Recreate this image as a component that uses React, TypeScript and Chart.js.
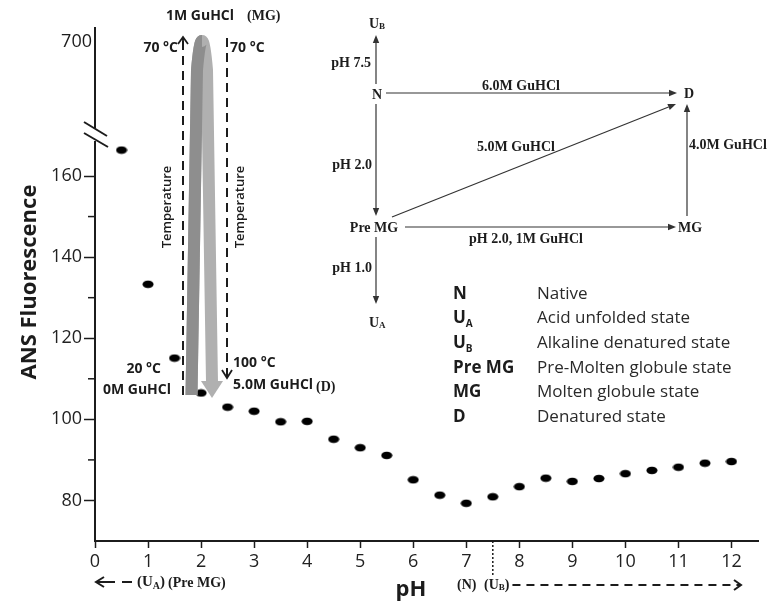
import React, { useEffect, useRef } from "react";
import { Chart, registerables } from "chart.js";

Chart.register(...registerables);

// ---- data ----
const phValues = [0.5, 1, 1.5, 2, 2.5, 3, 3.5, 4, 4.5, 5, 5.5, 6, 6.5, 7, 7.5, 8, 8.5, 9, 9.5, 10, 10.5, 11, 11.5, 12];
const ansFluorescence = [166.4, 133.3, 115.1, 106.5, 103, 102, 99.4, 99.5, 95.1, 93, 91.1, 85.1, 81.3, 79.3, 80.9, 83.4, 85.5, 84.7, 85.4, 86.6, 87.4, 88.2, 89.2, 89.6];
const xTickValues = [0, 1, 2, 3, 4, 5, 6, 7, 8, 9, 10, 11, 12];
const yTickValues = [80, 90, 100, 110, 120, 130, 140, 150, 160];
const yBreakLabel = "700";
const legendMain = ["N", "U", "U", "Pre MG", "MG", "D"];
const legendSub = ["", "A", "B", "", "", ""];
const legendDesc = ["Native", "Acid unfolded state", "Alkaline denatured state", "Pre-Molten globule state", "Molten globule state", "Denatured state"];

const SANS = '"Open Sans", "Noto Sans", sans-serif';
const SERIF = '"Liberation Serif", "DejaVu Serif", serif';
const INK = "#1c1c1c";

function makeDot(): HTMLCanvasElement {
  const c = document.createElement("canvas");
  c.width = 12;
  c.height = 9;
  const g = c.getContext("2d")!;
  g.fillStyle = "#000";
  g.beginPath();
  g.ellipse(6, 4.5, 5.5, 3.8, 0, 0, Math.PI * 2);
  g.fill();
  return c;
}

function line(ctx: CanvasRenderingContext2D, x1: number, y1: number, x2: number, y2: number) {
  ctx.beginPath();
  ctx.moveTo(x1, y1);
  ctx.lineTo(x2, y2);
  ctx.stroke();
}

function arrow(ctx: CanvasRenderingContext2D, x1: number, y1: number, x2: number, y2: number) {
  const a = Math.atan2(y2 - y1, x2 - x1);
  const hl = 8, hw = 3.2;
  const bx = x2 - hl * Math.cos(a), by = y2 - hl * Math.sin(a);
  line(ctx, x1, y1, bx, by);
  ctx.beginPath();
  ctx.moveTo(x2, y2);
  ctx.lineTo(bx + hw * Math.sin(a), by - hw * Math.cos(a));
  ctx.lineTo(bx - hw * Math.sin(a), by + hw * Math.cos(a));
  ctx.closePath();
  ctx.fill();
}

// draws main text + subscript (+ trailing text), left aligned; returns end x
function subText(ctx: CanvasRenderingContext2D, parts: [string, string, string], x: number, y: number, font: string, subFont: string, subDy: number) {
  ctx.textAlign = "left";
  ctx.font = font;
  ctx.fillText(parts[0], x, y);
  let cx = x + ctx.measureText(parts[0]).width;
  ctx.font = subFont;
  ctx.fillText(parts[1], cx, y + subDy);
  cx += ctx.measureText(parts[1]).width;
  ctx.font = font;
  ctx.fillText(parts[2], cx, y);
  cx += ctx.measureText(parts[2]).width;
  return cx;
}

const decorPlugin = {
  id: "decor",
  afterDraw(chart: any) {
    const ctx: CanvasRenderingContext2D = chart.ctx;
    const xs = chart.scales.x;
    const ys = chart.scales.y;
    const area = chart.chartArea;
    ctx.save();
    ctx.fillStyle = INK;
    ctx.strokeStyle = INK;
    ctx.textBaseline = "middle";

    // minor y ticks
    ctx.lineWidth = 1.5;
    yTickValues.forEach((v) => {
      if (v % 20 !== 0) {
        const py = ys.getPixelForValue(v);
        line(ctx, area.left - 7, py, area.left, py);
      }
    });

    // axis break
    ctx.fillStyle = "#fff";
    ctx.fillRect(area.left - 4, 128, 8, 13);
    ctx.fillStyle = INK;
    ctx.lineWidth = 2;
    line(ctx, 84, 122, 107, 136);
    line(ctx, 84, 133, 108, 147);
    ctx.font = `18px ${SANS}`;
    ctx.textAlign = "right";
    ctx.fillText(yBreakLabel, 92, 42);

    // axis titles
    ctx.save();
    ctx.translate(30, 282);
    ctx.rotate(-Math.PI / 2);
    ctx.font = `bold 22px ${SANS}`;
    ctx.textAlign = "center";
    ctx.fillText("ANS Fluorescence", 0, 0);
    ctx.restore();
    ctx.font = `bold 22px ${SANS}`;
    ctx.textAlign = "center";
    ctx.fillText("pH", 411, 590);

    // below axis annotations
    ctx.lineWidth = 2;
    line(ctx, 96, 582, 115, 582);
    line(ctx, 122, 582, 132, 582);
    ctx.beginPath();
    ctx.moveTo(104, 577);
    ctx.lineTo(96, 582);
    ctx.lineTo(104, 587);
    ctx.stroke();
    let ex = subText(ctx, ["(U", "A", ")"], 137, 582, `bold 15px ${SERIF}`, `bold 10px ${SERIF}`, 4);
    ctx.font = `bold 14px ${SERIF}`;
    ctx.textAlign = "left";
    ctx.fillText("(Pre MG)", ex + 3, 583);

    ctx.fillText("(N)", 457, 585);
    ex = subText(ctx, ["(U", "B", ")"], 484, 585, `bold 14px ${SERIF}`, `bold 9px ${SERIF}`, 3);
    ctx.setLineDash([8, 6]);
    ctx.lineWidth = 2;
    line(ctx, ex + 3, 585, 740, 585);
    ctx.setLineDash([]);
    ctx.beginPath();
    ctx.moveTo(734, 580);
    ctx.lineTo(741, 585);
    ctx.lineTo(734, 590);
    ctx.stroke();
    // dotted separator at pH 7.5
    const p75 = xs.getPixelForValue(7.5);
    ctx.setLineDash([2, 2]);
    ctx.lineWidth = 1.5;
    line(ctx, p75, area.bottom, p75, 575);
    ctx.setLineDash([]);

    // gray hairpin arrow
    ctx.lineCap = "butt";
    ctx.lineWidth = 12;
    ctx.strokeStyle = "#b0b0b0";
    ctx.beginPath();
    ctx.moveTo(191.5, 395);
    ctx.lineTo(197, 70);
    ctx.quadraticCurveTo(202, 12, 207, 70);
    ctx.lineTo(212, 382);
    ctx.stroke();
    ctx.strokeStyle = "#8e8e8e";
    ctx.beginPath();
    ctx.moveTo(191.5, 395);
    ctx.lineTo(197, 70);
    ctx.quadraticCurveTo(199.5, 41, 202, 41);
    ctx.stroke();
    ctx.fillStyle = "#b0b0b0";
    ctx.beginPath();
    ctx.moveTo(201, 381);
    ctx.lineTo(223, 381);
    ctx.lineTo(212, 398);
    ctx.closePath();
    ctx.fill();

    // dashed temperature arrows
    ctx.strokeStyle = INK;
    ctx.fillStyle = INK;
    ctx.lineWidth = 2;
    ctx.setLineDash([9, 6]);
    line(ctx, 183, 395, 183, 40);
    line(ctx, 227, 38, 227, 376);
    ctx.setLineDash([]);
    ctx.lineWidth = 1.8;
    ctx.beginPath();
    ctx.moveTo(178, 44);
    ctx.lineTo(183, 37);
    ctx.lineTo(188, 44);
    ctx.moveTo(183, 37);
    ctx.lineTo(183, 46);
    ctx.stroke();
    ctx.beginPath();
    ctx.moveTo(222, 370);
    ctx.lineTo(227, 378);
    ctx.lineTo(232, 370);
    ctx.stroke();

    ctx.font = `bold 14px ${SANS}`;
    ctx.textAlign = "center";
    ctx.fillText("1M GuHCl", 200, 16);
    ctx.textAlign = "right";
    ctx.fillText("70 °C", 178, 48);
    ctx.fillText("20 °C", 161, 369);
    ctx.fillText("0M GuHCl", 171, 390);
    ctx.textAlign = "left";
    ctx.fillText("70 °C", 230, 48);
    ctx.fillText("100 °C", 233, 363);
    ctx.fillText("5.0M GuHCl", 233, 385);
    const w5 = ctx.measureText("5.0M GuHCl").width;
    ctx.font = `bold 14px ${SERIF}`;
    ctx.fillText("(D)", 233 + w5 + 3, 387);
    ctx.fillText("(MG)", 247, 16);

    ctx.font = `600 13px ${SANS}`;
    ctx.textAlign = "center";
    [167, 240].forEach((tx) => {
      ctx.save();
      ctx.translate(tx, 207);
      ctx.rotate(-Math.PI / 2);
      ctx.fillText("Temperature", 0, 0);
      ctx.restore();
    });

    // state diagram
    ctx.strokeStyle = "#333";
    ctx.fillStyle = "#333";
    ctx.lineWidth = 1.2;
    arrow(ctx, 376, 84, 376, 35);
    arrow(ctx, 386, 93, 677, 93);
    arrow(ctx, 376, 104, 376, 216);
    arrow(ctx, 405, 227, 676, 227);
    arrow(ctx, 392, 217, 676, 104);
    arrow(ctx, 687, 216, 687, 104);
    arrow(ctx, 376, 237, 376, 304);

    ctx.fillStyle = INK;
    const dFont = `bold 14px ${SERIF}`;
    const dSub = `bold 9px ${SERIF}`;
    subText(ctx, ["U", "B", ""], 369, 24, dFont, dSub, 3);
    subText(ctx, ["U", "A", ""], 369, 323, dFont, dSub, 3);
    ctx.font = dFont;
    ctx.textAlign = "right";
    ctx.fillText("pH 7.5", 371, 63);
    ctx.fillText("pH 2.0", 372, 165);
    ctx.fillText("pH 1.0", 372, 268);
    ctx.textAlign = "center";
    ctx.fillText("N", 377, 95);
    ctx.fillText("D", 689, 94);
    ctx.fillText("Pre MG", 374, 228);
    ctx.fillText("MG", 690, 228);
    ctx.fillText("6.0M GuHCl", 521, 86);
    ctx.fillText("5.0M GuHCl", 516, 147);
    ctx.fillText("pH 2.0, 1M GuHCl", 526, 239);
    ctx.textAlign = "left";
    ctx.fillText("4.0M GuHCl", 689, 145);

    // legend
    legendMain.forEach((m, i) => {
      const ly = 294 + i * 24.6;
      ctx.fillStyle = INK;
      subText(ctx, [m, legendSub[i], ""], 453, ly, `bold 17px ${SANS}`, `bold 10px ${SANS}`, 6);
      ctx.font = `17px ${SANS}`;
      ctx.textAlign = "left";
      ctx.fillStyle = "#2a2a2a";
      ctx.fillText(legendDesc[i], 537, ly);
    });

    ctx.restore();
  },
};

export default function App() {
  const ref = useRef<HTMLCanvasElement>(null);
  useEffect(() => {
    if (!ref.current) return;
    const dot = makeDot();
    const chart = new Chart(ref.current, {
      type: "scatter",
      data: {
        datasets: [
          {
            data: phValues.map((x, i) => ({ x, y: ansFluorescence[i] })),
            pointStyle: dot as any,
            backgroundColor: "#000",
            borderColor: "#000",
          },
        ],
      },
      options: {
        animation: false,
        responsive: false,
        devicePixelRatio: 1,
        layout: { padding: { left: 0, right: 9, top: 28, bottom: 0 } },
        plugins: { legend: { display: false }, tooltip: { enabled: false } },
        scales: {
          x: {
            type: "linear",
            min: 0,
            max: 12.5,
            afterFit: (s: any) => {
              s.height = 64;
            },
            afterBuildTicks: (s: any) => {
              s.ticks = xTickValues.map((v) => ({ value: v }));
            },
            border: { color: INK, width: 2 },
            grid: { drawOnChartArea: false, drawTicks: true, tickLength: 7, tickColor: INK, tickWidth: 1.5 },
            ticks: { color: "#222", font: { family: SANS, size: 18 }, padding: 3, maxRotation: 0, autoSkip: false },
          },
          y: {
            type: "linear",
            min: 70,
            max: 196.5,
            afterFit: (s: any) => {
              s.width = 95;
            },
            afterBuildTicks: (s: any) => {
              s.ticks = yTickValues.map((v) => ({ value: v }));
            },
            border: { color: INK, width: 2 },
            grid: {
              drawOnChartArea: false,
              drawTicks: true,
              tickLength: 11,
              tickWidth: 1.5,
              tickColor: (c: any) => (c.tick && c.tick.value % 20 === 0 ? INK : "rgba(0,0,0,0)"),
            },
            ticks: {
              color: "#222",
              font: { family: SANS, size: 18 },
              padding: 2,
              autoSkip: false,
              callback: (v: any) => (Number(v) % 20 === 0 ? String(v) : ""),
            },
          },
        },
      },
      plugins: [decorPlugin],
    });
    return () => chart.destroy();
  }, []);
  return (
    <div style={{ position: "fixed", left: 0, top: 0, width: 767, height: 605, background: "#fff" }}>
      <canvas ref={ref} width={767} height={605} />
    </div>
  );
}
